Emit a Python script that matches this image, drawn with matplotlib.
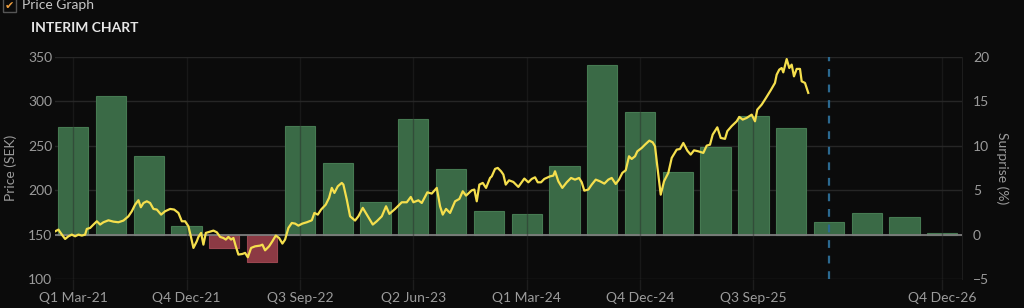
import matplotlib
matplotlib.use("Agg")
import matplotlib.pyplot as plt
from matplotlib.patches import Rectangle

# ---------------- data ----------------
quarters = ["Q1 Mar-21", "Q2 Jun-21", "Q3 Sep-21", "Q4 Dec-21",
            "Q1 Mar-22", "Q2 Jun-22", "Q3 Sep-22", "Q4 Dec-22",
            "Q1 Mar-23", "Q2 Jun-23", "Q3 Sep-23", "Q4 Dec-23",
            "Q1 Mar-24", "Q2 Jun-24", "Q3 Sep-24", "Q4 Dec-24",
            "Q1 Mar-25", "Q2 Jun-25", "Q3 Sep-25", "Q4 Dec-25",
            "Q1 Mar-26", "Q2 Jun-26", "Q3 Sep-26", "Q4 Dec-26"]
surprise = [12.1, 15.6, 8.8, 1.0, -1.5, -3.1, 12.2, 8.1,
            3.7, 13.0, 7.4, 2.7, 2.3, 7.7, 19.1, 13.8,
            7.1, 9.9, 13.3, 12.0, 1.4, 2.4, 2.0, 0.15]
shown_ticks = ["Q1 Mar-21", "Q4 Dec-21", "Q3 Sep-22", "Q2 Jun-23",
               "Q1 Mar-24", "Q4 Dec-24", "Q3 Sep-25", "Q4 Dec-26"]
current_quarter = "Q1 Mar-26"

# share price: time in quarters (0 = Q1 Mar-21) and price in SEK
price_t = [-0.476, -0.389, -0.299, -0.212, -0.124, -0.034, 0.053, 0.140, 0.230, 0.317,
           0.362, 0.450, 0.537, 0.627, 0.714, 0.802, 0.934, 1.066, 1.198, 1.331,
           1.463, 1.553, 1.640, 1.728, 1.791, 1.860, 1.950, 2.037, 2.124, 2.214,
           2.328, 2.434, 2.566, 2.672, 2.786, 2.876, 2.963, 3.050, 3.114, 3.183,
           3.272, 3.315, 3.386, 3.447, 3.511, 3.624, 3.712, 3.802, 3.889, 3.976,
           4.040, 4.108, 4.180, 4.241, 4.304, 4.373, 4.479, 4.550, 4.622, 4.709,
           4.815, 4.947, 5.008, 5.079, 5.185, 5.272, 5.362, 5.450, 5.537, 5.608,
           5.696, 5.786, 5.873, 5.960, 6.066, 6.183, 6.315, 6.384, 6.474, 6.561,
           6.685, 6.772, 6.844, 6.913, 7.003, 7.108, 7.151, 7.241, 7.328, 7.460,
           7.548, 7.664, 7.770, 7.929, 8.034, 8.167, 8.280, 8.368, 8.519, 8.696,
           8.828, 8.934, 9.003, 9.135, 9.225, 9.373, 9.489, 9.622, 9.709, 9.780,
           9.868, 9.974, 10.106, 10.220, 10.310, 10.397, 10.548, 10.616, 10.680, 10.749,
           10.839, 10.926, 11.032, 11.077, 11.164, 11.235, 11.323, 11.384, 11.447, 11.534,
           11.648, 11.780, 11.939, 12.045, 12.135, 12.222, 12.294, 12.381, 12.468, 12.619,
           12.706, 12.751, 12.839, 12.944, 13.061, 13.175, 13.280, 13.386, 13.458, 13.526,
           13.632, 13.722, 13.828, 13.942, 14.056, 14.161, 14.251, 14.357, 14.444, 14.532,
           14.622, 14.709, 14.780, 14.868, 14.929, 15.045, 15.132, 15.246, 15.336, 15.397,
           15.458, 15.548, 15.635, 15.749, 15.839, 15.971, 16.058, 16.146, 16.251, 16.341,
           16.429, 16.542, 16.675, 16.765, 16.852, 16.923, 17.045, 17.135, 17.249, 17.310,
           17.426, 17.558, 17.627, 17.717, 17.823, 17.955, 18.042, 18.103, 18.220, 18.333,
           18.458, 18.571, 18.616, 18.685, 18.749, 18.791, 18.881, 18.950, 19.013, 19.074,
           19.146, 19.233, 19.278, 19.365, 19.452]
price_sek = [153.7, 155.6, 150.0, 145.1, 148.1, 150.0, 148.1, 150.0, 148.9, 150.0,
             156.4, 157.5, 161.3, 165.0, 161.3, 163.9, 166.1, 164.6, 163.9, 165.8,
             170.6, 176.3, 183.8, 188.7, 180.8, 185.6, 187.5, 185.6, 178.9, 178.2,
             172.5, 176.3, 178.9, 178.2, 174.4, 165.0, 165.0, 159.4, 148.1, 135.0,
             142.5, 147.4, 151.9, 138.7, 151.9, 153.4, 154.5, 152.6, 147.4, 146.2,
             144.4, 147.4, 144.4, 146.2, 136.8, 127.5, 128.2, 129.4, 124.5, 135.0,
             136.8, 137.6, 138.7, 132.3, 136.8, 142.5, 148.9, 146.2, 139.9, 144.4,
             157.5, 163.1, 162.4, 160.1, 162.4, 163.9, 166.1, 174.4, 172.5, 178.2,
             183.8, 191.3, 202.6, 196.9, 204.4, 208.2, 206.3, 189.4, 170.6, 165.8,
             170.6, 180.1, 172.5, 161.3, 165.0, 170.6, 181.9, 173.3, 178.9, 186.4,
             186.4, 192.4, 186.4, 188.6, 185.6, 197.6, 196.2, 202.6, 181.9, 172.5,
             178.9, 174.4, 187.5, 190.2, 198.8, 193.9, 199.9, 200.7, 187.5, 206.3,
             208.2, 202.6, 213.8, 215.6, 224.0, 225.1, 221.3, 217.6, 206.3, 211.1,
             209.3, 203.7, 213.1, 208.9, 212.7, 214.5, 208.9, 208.9, 212.7, 215.6,
             216.4, 221.3, 210.0, 202.6, 208.9, 213.8, 211.9, 213.8, 208.9, 199.5,
             200.7, 206.3, 211.9, 210.0, 207.4, 211.9, 213.8, 207.0, 211.9, 219.5,
             222.4, 238.2, 235.2, 238.2, 243.8, 247.6, 251.3, 255.8, 253.9, 249.4,
             226.9, 195.0, 210.0, 219.5, 236.4, 245.7, 246.4, 253.2, 244.6, 240.1,
             244.9, 243.8, 242.0, 250.2, 251.3, 262.6, 270.8, 258.9, 257.8, 266.5,
             272.2, 277.6, 282.5, 279.5, 281.4, 285.1, 277.6, 290.7, 296.4, 303.9,
             312.5, 320.8, 330.1, 335.8, 337.6, 332.7, 347.7, 337.6, 341.4, 328.2,
             336.6, 336.6, 322.6, 320.8, 309.6]

# ---------------- style ----------------
BG = "#0b0b0b"
GRID = "#262626"
TXT = "#9b9b9b"
GREEN = "#3a6a46"
GREEN_EDGE = "#467a52"
RED = "#8c3a44"
RED_EDGE = "#9a4650"
YELLOW = "#f5df4d"
FONT = "Lato"

plt.rcParams["font.family"] = [FONT, "DejaVu Sans"]

W, H = 1024, 308
fig = plt.figure(figsize=(W / 100, H / 100), dpi=100, facecolor=BG)

rect = [55 / W, 29 / H, 907 / W, 222 / H]
ax = fig.add_axes(rect)
ax2 = ax.twinx()

# bars on surprise axis (behind)
pos = list(range(len(quarters)))
colors = [GREEN if v >= 0 else RED for v in surprise]
edges = [GREEN_EDGE if v >= 0 else RED_EDGE for v in surprise]
ax2.bar(pos, surprise, width=0.8, color=colors, edgecolor=edges,
        linewidth=0.8, zorder=2)
ax2.axhline(0, color="#7d7d7d", lw=1.3, zorder=3)
ax2.set_ylim(-5, 20)
ax2.set_yticks([-5, 0, 5, 10, 15, 20])
ax2.grid(axis="y", color=GRID, lw=1.0, zorder=0)
ax2.set_axisbelow(True)
ax2.tick_params(axis="y", length=0, pad=8, colors=TXT, labelsize=10)
ax2.set_ylabel("Surprise (%)", color=TXT, fontsize=10, rotation=270,
               labelpad=14)

# price line on top
ax.set_zorder(ax2.get_zorder() + 1)
ax.patch.set_visible(False)
ax.plot(price_t, price_sek, color=YELLOW, lw=1.6, zorder=4,
        solid_joinstyle="round")
ax.axvline(quarters.index(current_quarter), color="#2b6990", lw=1.6,
           ls=(0, (3.5, 3.5)), zorder=5)
ax.set_ylim(100, 350)
ax.set_xlim(-0.48, 23.52)
ax.set_yticks([100, 150, 200, 250, 300, 350])
ax.set_xticks([quarters.index(q) for q in shown_ticks])
ax.set_xticklabels(shown_ticks)
ax.grid(axis="x", color="#2a2a2a", lw=1.0, alpha=0.45, zorder=1)
ax.tick_params(axis="y", length=0, pad=2, colors=TXT, labelsize=10)
ax.tick_params(axis="x", length=8, width=1.0, pad=1,
               colors=TXT, labelsize=10)
ax.tick_params(axis="x", color="#1d1d1d")
ax.set_ylabel("Price (SEK)", color=TXT, fontsize=10, labelpad=8)

for a in (ax, ax2):
    for s in a.spines.values():
        s.set_visible(False)
ax2.spines["right"].set_visible(True)
ax2.spines["right"].set_color("#1d1d1d")

# header texts
fig.text(31 / W, 1 - 28 / H, "INTERIM CHART", color="#e6e6e6",
         fontsize=10, fontweight="bold", va="center", ha="left")
fig.text(22 / W, 1 - 5 / H, "Price Graph", color="#c8c8c8",
         fontsize=10, va="center", ha="left")
fig.patches.append(Rectangle((3 / W, 1 - 12 / H), 13 / W, 16 / H,
                             transform=fig.transFigure, fill=False,
                             edgecolor="#555555", lw=1.0))
fig.text(9.5 / W, 1 - 6 / H, "\u2714", color="#f0a040", fontsize=8,
         va="center", ha="center", family="DejaVu Sans")

fig.savefig("out.png", dpi=100, facecolor=BG)
